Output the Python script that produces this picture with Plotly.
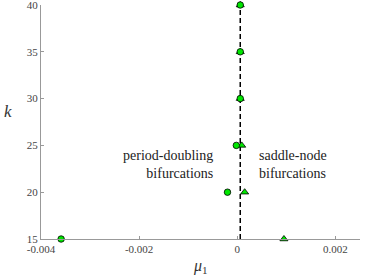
import plotly.graph_objects as go

# data
pd_mu = [-0.00359, -0.0002, -0.00002, 0.00006, 0.00006, 0.00006]
pd_k = [15, 20, 25, 30, 35, 40]
sn_mu = [0.00095, 0.00015, 0.00009, 0.00006, 0.00006, 0.00006]
sn_k = [15, 20, 25, 30, 35, 40]
line_mu = [0.00006, 0.00006]
line_k = [15, 40]
x_ticks = [-0.004, -0.002, 0, 0.002]
x_tick_text = ["-0.004", "-0.002", "0", "0.002"]
y_ticks = [15, 20, 25, 30, 35, 40]

green = "#00e600"
serif = "Liberation Serif"
fig = go.Figure()
fig.add_trace(go.Scatter(x=line_mu, y=line_k, mode="lines",
                         line=dict(color="black", width=1.5, dash="5px,3px"),
                         showlegend=False, hoverinfo="skip"))
fig.add_trace(go.Scatter(x=sn_mu, y=sn_k, mode="markers", cliponaxis=False,
                         marker=dict(symbol="triangle-up", size=7, color=green,
                                     line=dict(color="black", width=0.8)),
                         showlegend=False))
fig.add_trace(go.Scatter(x=pd_mu, y=pd_k, mode="markers", cliponaxis=False,
                         marker=dict(symbol="circle", size=6.5, color=green,
                                     line=dict(color="black", width=0.8)),
                         showlegend=False))

fig.add_annotation(x=-0.00045, y=23.0, xref="x", yref="y",
                   text="period-doubling<br>bifurcations", showarrow=False,
                   xanchor="right", yanchor="middle", align="right",
                   font=dict(family=serif, size=14, color="#222"))
fig.add_annotation(x=0.00041, y=23.0, xref="x", yref="y",
                   text="saddle-node<br>bifurcations", showarrow=False,
                   xanchor="left", yanchor="middle", align="left",
                   font=dict(family=serif, size=14, color="#222"))
# axis titles
fig.add_annotation(x=0.5, y=-0.07, xref="paper", yref="paper",
                   text="<i>μ</i><sub>1</sub>", showarrow=False,
                   xanchor="center", yanchor="top",
                   font=dict(family=serif, size=16, color="#333"))
fig.add_annotation(x=-0.103, y=0.545, xref="paper", yref="paper",
                   text="<i>k</i>", showarrow=False,
                   xanchor="center", yanchor="middle",
                   font=dict(family=serif, size=17, color="#333"))

fig.update_layout(
    width=371, height=278,
    margin=dict(l=41, r=11, t=5, b=39),
    paper_bgcolor="white", plot_bgcolor="white",
    font=dict(family=serif, size=11, color="#444"),
    xaxis=dict(range=[-0.004, 0.0025], tickvals=x_ticks, ticktext=x_tick_text,
               showgrid=False, zeroline=False, showline=True, linecolor="#999",
               linewidth=1, ticks="inside", ticklen=3, tickcolor="#999",
               automargin=False, ticklabeloverflow="allow",
               tickfont=dict(family=serif, size=11, color="#444")),
    yaxis=dict(range=[15, 40.0001], tickvals=y_ticks,
               showgrid=False, zeroline=False, showline=True, linecolor="#999",
               linewidth=1, ticks="inside", ticklen=3, tickcolor="#999",
               automargin=False, ticklabeloverflow="allow",
               tickfont=dict(family=serif, size=11, color="#444")),
)
fig.write_html("out.html", config={"displayModeBar": False},
               post_script="document.body.style.margin='0';document.body.style.padding='0';")
